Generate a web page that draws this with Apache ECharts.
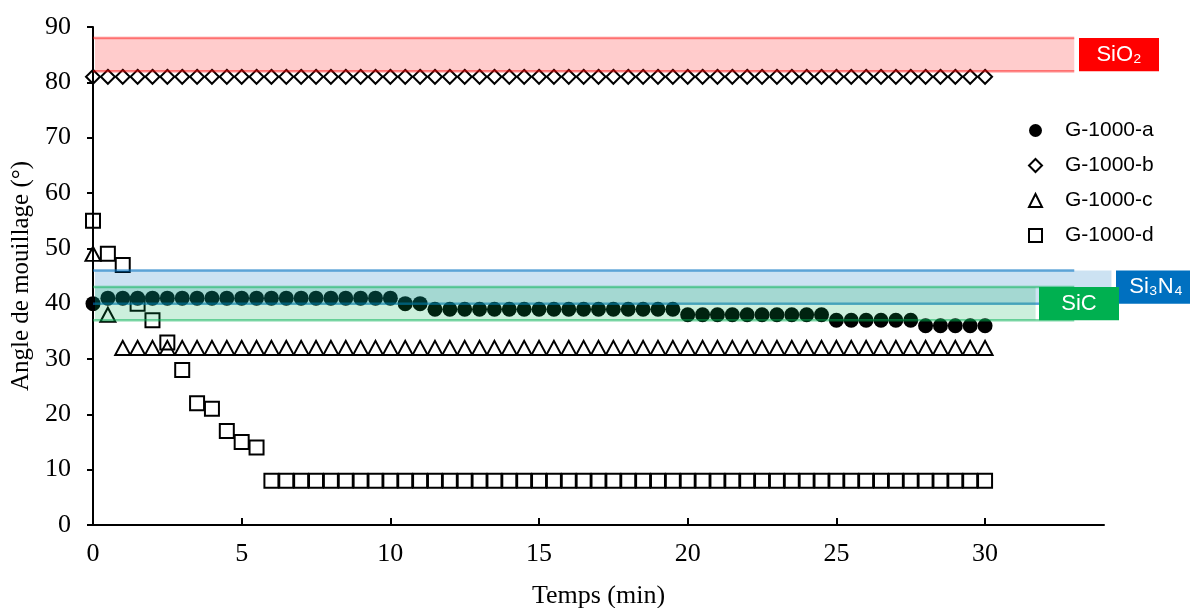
<!DOCTYPE html>
<html>
<head>
<meta charset="utf-8">
<script src="https://cdn.jsdelivr.net/npm/echarts@6/dist/echarts.min.js"></script>
<style>
  html, body { margin: 0; padding: 0; background: #fff; }
  #chart { width: 1190px; height: 608px; }
</style>
</head>
<body>
<div id="chart"></div>
<script>
// temps (min)
const temps = [0, 0.5, 1, 1.5, 2, 2.5, 3, 3.5, 4, 4.5, 5, 5.5, 6, 6.5, 7, 7.5, 8, 8.5, 9, 9.5,
  10, 10.5, 11, 11.5, 12, 12.5, 13, 13.5, 14, 14.5, 15, 15.5, 16, 16.5, 17, 17.5, 18, 18.5, 19, 19.5,
  20, 20.5, 21, 21.5, 22, 22.5, 23, 23.5, 24, 24.5, 25, 25.5, 26, 26.5, 27, 27.5, 28, 28.5, 29, 29.5, 30];

const serieA = [40, 41, 41, 41, 41, 41, 41, 41, 41, 41, 41, 41, 41, 41, 41, 41, 41, 41, 41, 41,
  41, 40, 40, 39, 39, 39, 39, 39, 39, 39, 39, 39, 39, 39, 39, 39, 39, 39, 39, 39,
  38, 38, 38, 38, 38, 38, 38, 38, 38, 38, 37, 37, 37, 37, 37, 37, 36, 36, 36, 36, 36];
const serieB = [81, 81, 81, 81, 81, 81, 81, 81, 81, 81, 81, 81, 81, 81, 81, 81, 81, 81, 81, 81,
  81, 81, 81, 81, 81, 81, 81, 81, 81, 81, 81, 81, 81, 81, 81, 81, 81, 81, 81, 81,
  81, 81, 81, 81, 81, 81, 81, 81, 81, 81, 81, 81, 81, 81, 81, 81, 81, 81, 81, 81, 81];
const serieC = [49, 38, 32, 32, 32, 32, 32, 32, 32, 32, 32, 32, 32, 32, 32, 32, 32, 32, 32, 32,
  32, 32, 32, 32, 32, 32, 32, 32, 32, 32, 32, 32, 32, 32, 32, 32, 32, 32, 32, 32,
  32, 32, 32, 32, 32, 32, 32, 32, 32, 32, 32, 32, 32, 32, 32, 32, 32, 32, 32, 32, 32];
const serieD = [55, 49, 47, 40, 37, 33, 28, 22, 21, 17, 15, 14, 8, 8, 8, 8, 8, 8, 8, 8,
  8, 8, 8, 8, 8, 8, 8, 8, 8, 8, 8, 8, 8, 8, 8, 8, 8, 8, 8, 8,
  8, 8, 8, 8, 8, 8, 8, 8, 8, 8, 8, 8, 8, 8, 8, 8, 8, 8, 8, 8, 8];

const noms = ['G-1000-a', 'G-1000-b', 'G-1000-c', 'G-1000-d'];

// plages de référence (°)
const plages = ['SiO₂', 'Si₃N₄', 'SiC'];
const plageMin = [82, 40, 37];
const plageMax = [88, 46, 43];

const xTicks = [0, 5, 10, 15, 20, 25, 30];

const chart = echarts.init(document.getElementById('chart'));

function pts(vals) {
  return temps.map((t, i) => [t, vals[i]]);
}

// mise en forme des plages
const plageStyle = [
  { fill: 'rgba(255,0,0,0.2)', line: 'rgba(255,0,0,0.45)', box: '#ff0000', fillEnd: 33, boxX: 1079 },
  { fill: 'rgba(0,112,192,0.2)', line: 'rgba(0,112,192,0.6)', box: '#0070c0', fillEnd: 34.25, boxX: 1116 },
  { fill: 'rgba(0,176,80,0.2)', line: 'rgba(0,176,80,0.5)', box: '#00b050', fillEnd: 31.7, boxX: 1039 }
];

function renderPlage(params, api) {
  const i = params.dataIndex;
  const s = plageStyle[i];
  const lo = api.value(1), hi = api.value(2);
  const p0 = api.coord([0, hi]);
  const p1 = api.coord([s.fillEnd, lo]);
  const lEnd = api.coord([33, lo])[0];
  return {
    type: 'group',
    children: [
      { type: 'rect', shape: { x: p0[0] + 2, y: p0[1], width: p1[0] - p0[0] - 2, height: p1[1] - p0[1] },
        style: { fill: s.fill } },
      { type: 'line', shape: { x1: p0[0], y1: p0[1], x2: lEnd, y2: p0[1] },
        style: { stroke: s.line, lineWidth: 2.5 } },
      { type: 'line', shape: { x1: p0[0], y1: p1[1], x2: lEnd, y2: p1[1] },
        style: { stroke: s.line, lineWidth: 2.5 } },
      { type: 'rect', shape: { x: s.boxX, y: p0[1], width: 80, height: p1[1] - p0[1] },
        style: { fill: s.box } },
      { type: 'text', x: s.boxX + 40, y: (p0[1] + p1[1]) / 2,
        style: { text: plages[i], fill: '#fff', font: '22px "Liberation Sans", Arial',
          align: 'center', verticalAlign: 'middle' } }
    ]
  };
}

const hollow = { color: 'transparent', borderColor: '#000', borderWidth: 2, opacity: 1 };

const option = {
  animation: false,
  grid: { left: 93, right: 86, top: 27, bottom: 83, containLabel: false, outerBoundsMode: 'none' },
  legend: {
    data: noms,
    orient: 'vertical',
    left: 1023,
    top: 115,
    itemGap: 14,
    itemWidth: 13,
    itemHeight: 13,
    textStyle: { fontFamily: 'Liberation Sans', fontSize: 21, color: '#000', padding: [0, 0, 0, 18] }
  },
  xAxis: {
    type: 'value',
    min: 0, max: 34, interval: 5,
    name: 'Temps (min)',
    nameLocation: 'middle',
    nameGap: 58,
    nameTextStyle: { fontFamily: 'Liberation Serif', fontSize: 26, color: '#000' },
    axisLine: { lineStyle: { color: '#000', width: 2 } },
    axisTick: { inside: true, length: 7, lineStyle: { color: '#000', width: 2 }, customValues: xTicks },
    axisLabel: { customValues: xTicks, margin: 16, fontFamily: 'Liberation Serif', fontSize: 26, color: '#000' },
    splitLine: { show: false }
  },
  yAxis: {
    type: 'value',
    min: 0, max: 90, interval: 10,
    name: 'Angle de mouillage (°)',
    nameLocation: 'middle',
    nameGap: 54,
    nameRotate: 90,
    nameTextStyle: { fontFamily: 'Liberation Serif', fontSize: 25, color: '#000' },
    axisLine: { lineStyle: { color: '#000', width: 2 } },
    axisTick: { length: 6, lineStyle: { color: '#000', width: 2 } },
    axisLabel: { margin: 22, fontFamily: 'Liberation Serif', fontSize: 26, color: '#000' },
    splitLine: { show: false }
  },
  series: [
    { name: noms[0], type: 'scatter', z: 2, symbol: 'circle', symbolSize: 15,
      itemStyle: { color: '#000', opacity: 1 }, data: pts(serieA) },
    { name: noms[1], type: 'scatter', z: 2, symbol: 'diamond', symbolSize: 14,
      itemStyle: hollow, data: pts(serieB) },
    { name: noms[2], type: 'scatter', z: 2, symbol: 'triangle', symbolSize: [15, 14],
      itemStyle: hollow, data: pts(serieC) },
    { name: noms[3], type: 'scatter', z: 2, symbol: 'rect', symbolSize: 14,
      itemStyle: hollow, data: pts(serieD) },
    { name: 'plages', type: 'custom', z: 5, silent: true, clip: false,
      renderItem: renderPlage,
      encode: { x: 0, y: [1, 2] },
      data: plages.map((p, i) => [0, plageMin[i], plageMax[i]]) }
  ]
};

chart.setOption(option);
</script>
</body>
</html>
